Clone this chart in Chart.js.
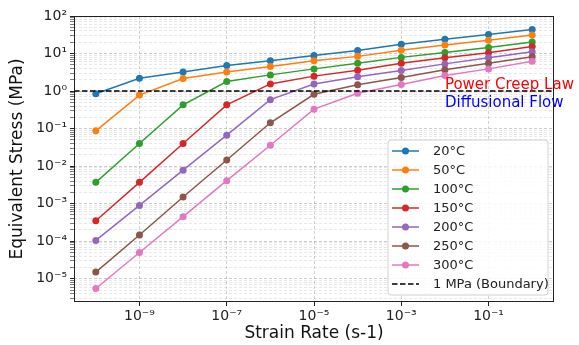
<!DOCTYPE html>
<html>
<head>
<meta charset="utf-8">
<script src="https://cdn.jsdelivr.net/npm/chart.js@4/dist/chart.umd.min.js"></script>
<style>
  html, body { margin: 0; padding: 0; background: #fff; }
  #wrap { width: 579px; height: 345px; }
</style>
</head>
<body>
<div id="wrap"><canvas id="creepChart"></canvas></div>
<script>
// Strain rates (s-1)
const strainRates = [1e-10, 1e-9, 1e-8, 1e-7, 1e-6, 1e-5, 1e-4, 1e-3, 1e-2, 1e-1, 1e0];

// Equivalent stress (MPa) per temperature
const stress20  = [0.85, 2.2, 3.2, 4.8, 6.4, 8.9, 12, 17.8, 24, 32, 44];
const stress50  = [0.087, 0.78, 2.15, 3.2, 4.5, 6.4, 8.4, 12.3, 17, 22.6, 31];
const stress100 = [0.0037, 0.040, 0.43, 1.8, 2.7, 3.9, 5.5, 7.9, 10.7, 14.5, 20.4];
const stress150 = [0.00035, 0.0037, 0.040, 0.43, 1.55, 2.5, 3.6, 5.5, 7.7, 10.5, 15.3];
const stress200 = [0.000105, 0.0009, 0.0078, 0.067, 0.59, 1.55, 2.4, 3.55, 5.3, 7.7, 11.1];
const stress250 = [0.000015, 0.000146, 0.0015, 0.0146, 0.143, 0.82, 1.48, 2.3, 3.7, 5.5, 8.2];
const stress300 = [0.0000055, 0.00005, 0.00045, 0.0041, 0.036, 0.33, 0.87, 1.5, 2.6, 3.9, 6.2];

const seriesNames = ["20°C", "50°C", "100°C", "150°C", "200°C", "250°C", "300°C"];
const seriesValues = [stress20, stress50, stress100, stress150, stress200, stress250, stress300];
const colors = ["#1f77b4", "#ff7f0e", "#2ca02c", "#d62728", "#9467bd", "#8c564b", "#e377c2"];

const boundaryStress = 1; // MPa
const boundaryLabel = "1 MPa (Boundary)";

// Axis limits and tick labels
const xMin = Math.pow(10, -10.5), xMax = Math.pow(10, 0.5);
const yMin = Math.pow(10, -5.62), yMax = 100;
const xTickValues = [1e-9, 1e-7, 1e-5, 1e-3, 1e-1];
const xTickLabels = ["10⁻⁹", "10⁻⁷", "10⁻⁵", "10⁻³", "10⁻¹"];
const yTickValues = [1e-5, 1e-4, 1e-3, 1e-2, 1e-1, 1e0, 1e1, 1e2];
const yTickLabels = ["10⁻⁵", "10⁻⁴", "10⁻³", "10⁻²", "10⁻¹", "10⁰", "10¹", "10²"];

const FONT = "'DejaVu Sans', sans-serif";

// minor ticks on y: 2..9 x 10^n
const yMinor = [];
for (let e = -6; e <= 1; e++) {
  for (let k = 2; k <= 9; k++) {
    const v = k * Math.pow(10, e);
    if (v > yMin && v < yMax) yMinor.push(v);
  }
}
function isMajorY(v) {
  return yTickValues.some(t => Math.abs(Math.log10(v) - Math.log10(t)) < 1e-6);
}

const datasets = seriesNames.map((name, i) => ({
  label: name,
  data: strainRates.map((x, j) => ({ x: x, y: seriesValues[i][j] })),
  borderColor: colors[i],
  backgroundColor: colors[i],
  borderWidth: 1.5,
  pointRadius: 3.5,
  pointBorderWidth: 0,
  pointHoverRadius: 3.5,
  order: seriesNames.length - i
}));
datasets.push({
  label: boundaryLabel,
  data: [{ x: xMin, y: boundaryStress }, { x: xMax, y: boundaryStress }],
  borderColor: "#000",
  borderWidth: 1.5,
  borderDash: [5.5, 2.5],
  pointRadius: 0,
  order: 0
});

const overlay = {
  id: "overlay",
  afterDraw(chart) {
    const ctx = chart.ctx, ca = chart.chartArea;
    const xs = chart.scales.x, ys = chart.scales.y;
    ctx.save();

    // spines
    ctx.strokeStyle = "#222";
    ctx.lineWidth = 1;
    ctx.setLineDash([]);
    ctx.strokeRect(ca.left + 0.5, ca.top + 0.5, ca.right - ca.left - 1, ca.bottom - ca.top - 1);

    // regime labels
    const tx = xs.getPixelForValue(1e-2);
    const ty = ys.getPixelForValue(boundaryStress);
    ctx.font = "15px " + FONT;
    ctx.textAlign = "left";
    ctx.textBaseline = "alphabetic";
    ctx.fillStyle = "red";
    ctx.fillText("Power Creep Law", tx, ty - 2);
    ctx.fillStyle = "blue";
    ctx.fillText("Diffusional Flow", tx, ty + 16);

    // legend
    const bw = 160, bh = 155;
    const bx = ca.right - 6 - bw, by = ca.bottom - 7 - bh;
    ctx.beginPath();
    ctx.roundRect(bx, by, bw, bh, 3);
    ctx.fillStyle = "rgba(255,255,255,0.85)";
    ctx.fill();
    ctx.strokeStyle = "#d0d0d0";
    ctx.lineWidth = 1;
    ctx.stroke();

    ctx.font = "13px " + FONT;
    ctx.textBaseline = "middle";
    const items = chart.data.datasets;
    items.forEach((ds, i) => {
      const cy = by + 11 + i * 19;
      const x0 = bx + 4, x1 = bx + 31;
      ctx.strokeStyle = ds.borderColor;
      ctx.lineWidth = 1.5;
      ctx.setLineDash(ds.borderDash || []);
      ctx.beginPath();
      ctx.moveTo(x0, cy);
      ctx.lineTo(x1, cy);
      ctx.stroke();
      ctx.setLineDash([]);
      if (ds.pointRadius) {
        ctx.fillStyle = ds.borderColor;
        ctx.beginPath();
        ctx.arc((x0 + x1) / 2, cy, 3.5, 0, Math.PI * 2);
        ctx.fill();
      }
      ctx.fillStyle = "#222";
      ctx.fillText(ds.label, bx + 45, cy + 1);
    });
    ctx.restore();
  }
};

new Chart(document.getElementById("creepChart"), {
  type: "line",
  data: { datasets: datasets },
  options: {
    responsive: true,
    maintainAspectRatio: false,
    animation: false,
    layout: { padding: { left: 0, top: 16, right: 25, bottom: 0 } },
    plugins: {
      legend: { display: false },
      tooltip: { enabled: false }
    },
    scales: {
      x: {
        type: "logarithmic",
        min: xMin,
        max: xMax,
        afterBuildTicks: s => { s.ticks = xTickValues.map(v => ({ value: v, major: true })); },
        afterFit: s => { s.height = 43; },
        ticks: {
          autoSkip: false,
          maxRotation: 0,
          padding: 2,
          color: "#222",
          font: { family: FONT, size: 14 },
          callback: (v) => {
            const i = xTickValues.findIndex(t => Math.abs(Math.log10(t) - Math.log10(v)) < 1e-6);
            return i >= 0 ? xTickLabels[i] : "";
          }
        },
        grid: {
          color: "rgba(150,150,150,0.55)",
          lineWidth: 0.8,
          tickColor: "#222",
          tickLength: 4,
          tickWidth: 1,
          tickBorderDash: []
        },
        border: { display: false, dash: [3, 2] },
        title: {
          display: true,
          text: "Strain Rate (s-1)",
          color: "#111",
          font: { family: FONT, size: 17 },
          padding: { top: 0, bottom: 1 }
        }
      },
      y: {
        type: "logarithmic",
        min: yMin,
        max: yMax,
        afterBuildTicks: s => {
          const all = yTickValues.concat(yMinor).sort((a, b) => a - b);
          s.ticks = all.map(v => ({ value: v, major: isMajorY(v) }));
        },
        afterFit: s => { s.width = 74; },
        ticks: {
          autoSkip: false,
          padding: 3,
          color: "#222",
          font: { family: FONT, size: 14 },
          callback: (v) => {
            const i = yTickValues.findIndex(t => Math.abs(Math.log10(t) - Math.log10(v)) < 1e-6);
            return i >= 0 ? yTickLabels[i] : "";
          }
        },
        grid: {
          color: c => (c.tick && isMajorY(c.tick.value)) ? "rgba(150,150,150,0.6)" : "rgba(170,170,170,0.45)",
          lineWidth: c => (c.tick && isMajorY(c.tick.value)) ? 0.8 : 0.6,
          tickColor: "#222",
          tickLength: c => 4,
          tickWidth: c => (c.tick && isMajorY(c.tick.value)) ? 1 : 0.6,
          tickBorderDash: []
        },
        border: { display: false, dash: [3, 2] },
        title: {
          display: true,
          text: "Equivalent Stress (MPa)",
          color: "#111",
          font: { family: FONT, size: 17 },
          padding: { top: 7, bottom: 0 }
        }
      }
    }
  },
  plugins: [overlay]
});
</script>
</body>
</html>
